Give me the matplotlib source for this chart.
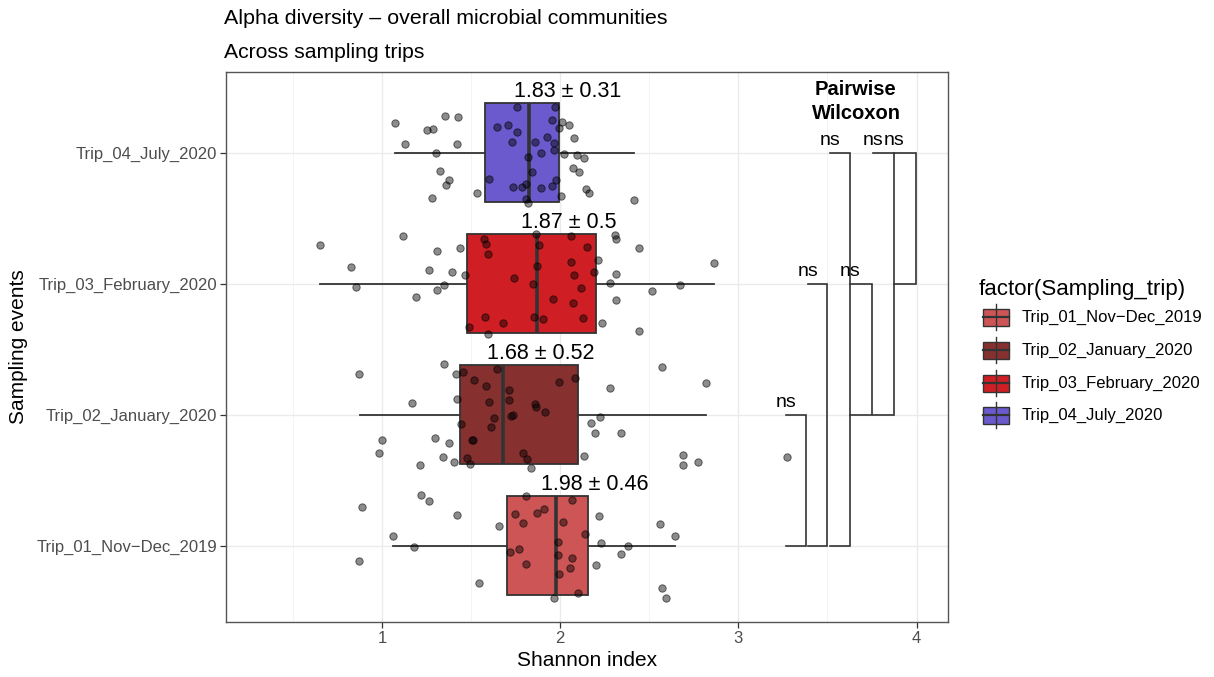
import matplotlib
matplotlib.use('Agg')
import matplotlib.pyplot as plt
from matplotlib.patches import Rectangle

plt.rcParams['font.family'] = ['Liberation Sans', 'DejaVu Sans']

# ---- data ----
trips = ['Trip_01_Nov\u2212Dec_2019', 'Trip_02_January_2020',
         'Trip_03_February_2020', 'Trip_04_July_2020']
colors = ['#CD5555', '#873030', '#CF1F25', '#6A5ACD']

q1 = [1.701, 1.439, 1.477, 1.579]
median = [1.978, 1.677, 1.869, 1.828]
q3 = [2.159, 2.099, 2.202, 1.996]
whisk_lo = [1.062, 0.875, 0.654, 1.075]
whisk_hi = [2.647, 2.819, 2.865, 2.417]

means = [1.98, 1.68, 1.87, 1.83]
sds = [0.46, 0.52, 0.5, 0.31]

# Shannon values of each sample and the vertical jitter seen in the picture
shannon_01 = [0.871, 0.886, 1.060, 1.179, 1.219, 1.264, 1.422, 1.546, 1.658, 1.716,
              1.748, 1.768, 1.791, 1.807, 1.809, 1.869, 1.908, 1.968, 1.987, 1.987,
              1.991, 2.017, 2.058, 2.069, 2.069, 2.101, 2.142, 2.200, 2.219, 2.228,
              2.344, 2.381, 2.559, 2.574, 2.593, 2.647]
jitter_01 = [-0.115, 0.295, 0.076, -0.010, 0.384, 0.336, 0.234, -0.290, 0.148, -0.051,
             0.242, -0.028, 0.170, 0.377, -0.142, 0.249, 0.282, -0.397, 0.025, -0.074,
             -0.216, 0.183, -0.170, 0.344, -0.099, -0.359, 0.087, -0.148, 0.224, 0.018,
             -0.064, -0.003, 0.163, -0.326, -0.397, 0.074]

shannon_02 = [0.873, 0.985, 1.000, 1.166, 1.211, 1.299, 1.340, 1.346, 1.378, 1.406,
              1.413, 1.421, 1.441, 1.454, 1.479, 1.493, 1.503, 1.512, 1.516, 1.585,
              1.598, 1.611, 1.628, 1.645, 1.712, 1.714, 1.723, 1.733, 1.789, 1.815,
              1.837, 1.860, 1.867, 1.916, 1.991, 2.082, 2.136, 2.174, 2.198, 2.222,
              2.277, 2.342, 2.572, 2.692, 2.688, 2.776, 2.819, 3.275]
jitter_02 = [0.308, -0.295, -0.198, 0.087, -0.382, -0.181, -0.323, 0.387, -0.221, -0.361,
             0.313, 0.120, -0.074, 0.323, -0.331, -0.374, -0.198, -0.191, 0.267, 0.216,
             0.097, -0.094, -0.028, 0.344, 0.191, 0.109, -0.013, -0.005, -0.293, -0.336,
             -0.405, 0.084, 0.059, 0.018, 0.247, 0.282, -0.318, -0.064, -0.140, -0.018,
             0.206, -0.140, 0.359, -0.310, -0.384, -0.364, 0.237, -0.326]

shannon_03 = [0.654, 0.824, 0.856, 1.118, 1.189, 1.264, 1.307, 1.307, 1.350, 1.393,
              1.437, 1.464, 1.490, 1.570, 1.583, 1.596, 1.581, 1.593, 1.677, 1.740,
              1.847, 1.852, 1.865, 1.880, 1.871, 1.905, 1.961, 2.060, 2.060, 2.077,
              2.073, 2.118, 2.129, 2.150, 2.191, 2.215, 2.234, 2.280, 2.305, 2.314,
              2.316, 2.314, 2.441, 2.445, 2.514, 2.673, 2.865]
jitter_03 = [0.295, 0.130, -0.028, 0.364, -0.099, 0.107, 0.252, -0.051, -0.010, 0.087,
             0.270, 0.069, -0.331, 0.338, 0.300, 0.226, -0.257, -0.382, -0.303, 0.041,
             -0.005, -0.254, 0.382, 0.295, 0.132, -0.270, -0.115, 0.364, 0.168, 0.066,
             -0.148, -0.033, -0.262, 0.280, 0.087, 0.181, -0.303, 0.003, 0.372, 0.338,
             0.076, -0.127, 0.270, -0.366, -0.059, -0.008, 0.153]

shannon_04 = [1.075, 1.127, 1.252, 1.284, 1.353, 1.426, 1.424, 1.305, 1.327, 1.378,
              1.359, 1.279, 1.531, 1.598, 1.645, 1.705, 1.757, 1.731, 1.759, 1.819,
              1.843, 1.860, 1.892, 1.927, 1.957, 1.966, 1.963, 1.972, 1.991, 2.011,
              2.047, 2.080, 2.024, 2.095, 2.133, 2.071, 2.105, 2.146, 2.163, 2.417,
              2.007, 1.976, 1.953, 1.892, 1.806, 1.785, 1.733, 1.806, 1.817]
jitter_04 = [0.224, 0.069, 0.170, 0.178, 0.282, 0.270, 0.064, -0.003, -0.142, -0.209,
             -0.247, -0.349, -0.308, -0.201, 0.196, 0.211, 0.160, 0.079, 0.344, -0.033,
             -0.145, 0.084, 0.000, 0.115, 0.247, 0.074, 0.020, 0.344, 0.191, 0.234,
             0.211, 0.109, -0.013, -0.018, -0.041, -0.120, -0.145, -0.275, -0.305, -0.364,
             -0.331, -0.211, -0.254, -0.267, -0.242, -0.262, -0.262, -0.356, -0.384]

shannon = [shannon_01, shannon_02, shannon_03, shannon_04]
jitter = [jitter_01, jitter_02, jitter_03, jitter_04]

# pairwise Wilcoxon brackets (group a, group b, label)
pairs = [(1, 2), (1, 3), (1, 4), (2, 3), (2, 4), (3, 4)]
pair_labels = ['ns'] * 6
bracket_start = [3.265, 3.39, 3.513, 3.625, 3.755, 3.871]
bracket_end = [3.377, 3.50, 3.625, 3.749, 3.871, 3.994]

# ---- figure ----
fig = plt.figure(figsize=(12.14, 6.77), dpi=100)
ax = fig.add_axes([226 / 1214, 1 - 622 / 677, (948.3 - 226) / 1214, (622 - 72) / 677])

positions = [1, 2, 3, 4]
stats = []
for i in range(4):
    stats.append({'med': median[i], 'q1': q1[i], 'q3': q3[i],
                  'whislo': whisk_lo[i], 'whishi': whisk_hi[i], 'fliers': []})

bp = ax.bxp(stats, positions=positions, orientation='horizontal', widths=0.75,
            patch_artist=True, showcaps=False, showfliers=False,
            boxprops=dict(edgecolor='#333333', linewidth=1.3),
            whiskerprops=dict(color='#333333', linewidth=1.3),
            medianprops=dict(color='#333333', linewidth=2.6))
for patch, c in zip(bp['boxes'], colors):
    patch.set_facecolor(c)
for art in bp['boxes'] + bp['whiskers'] + bp['medians']:
    art.set_zorder(2)

for i in range(4):
    ys = [positions[i] + j for j in jitter[i]]
    ax.scatter(shannon[i], ys, s=28, facecolors=(0, 0, 0, 0.45),
               edgecolors=(0, 0, 0, 0.55), linewidths=0.7, zorder=3)

# mean +/- sd labels
for i in range(4):
    ax.text(means[i] - 0.09, positions[i] + 0.425, f'{means[i]} \u00b1 {sds[i]}',
            ha='left', va='baseline', fontsize=15.5, color='black', zorder=4)

# brackets
for (a, b), lab, x0, x1 in zip(pairs, pair_labels, bracket_start, bracket_end):
    ax.plot([x0, x1, x1, x0], [a, a, b, b], color='#333333', linewidth=1.2,
            solid_joinstyle='miter', zorder=2)
    ax.text(x0, b + 0.03, lab, ha='center', va='bottom', fontsize=14, color='black')

ax.text(3.66, 4.39, 'Pairwise\nWilcoxon', ha='center', va='center', fontsize=14.5,
        fontweight='bold', linespacing=1.3)

ax.set_xlim(0.125, 4.178)
ax.set_ylim(0.416, 4.615)
ax.set_yticks(positions)
ax.set_yticklabels(trips)
ax.set_xticks([1, 2, 3, 4])
ax.set_xticks([0.5, 1.5, 2.5, 3.5], minor=True)
ax.grid(which='major', color='#EBEBEB', linewidth=1.0, zorder=0)
ax.grid(which='minor', axis='x', color='#F2F2F2', linewidth=0.6, zorder=0)
ax.set_axisbelow(True)
ax.tick_params(axis='both', which='major', length=4.5, width=0.9, color='#333333',
               labelsize=12, labelcolor='#4D4D4D', pad=1.8)
ax.tick_params(axis='x', which='minor', length=0)
for sp in ax.spines.values():
    sp.set_color('#555555')
    sp.set_linewidth(1.0)

ax.set_xlabel('Shannon index', fontsize=15, labelpad=4)
ax.set_ylabel('Sampling events', fontsize=15, labelpad=6)

fig.text(224 / 1214, 1 - 19 / 677, 'Alpha diversity \u2013 overall microbial communities',
         fontsize=15.4, ha='left', va='center')
fig.text(224 / 1214, 1 - 53 / 677, 'Across sampling trips', fontsize=15.2,
         ha='left', va='center')

# legend drawn by hand, in pixel units
lax = fig.add_axes([0, 0, 1, 1])
lax.set_xlim(0, 1214)
lax.set_ylim(677, 0)
lax.axis('off')
lax.text(979, 289, 'factor(Sampling_trip)', fontsize=16, ha='left', va='center')
key_y = [317, 350, 383, 415]
for lab, c, ky in zip(trips, colors, key_y):
    lax.plot([996, 996], [ky - 13, ky + 13], color='#333333', linewidth=1.0)
    lax.add_patch(Rectangle((983, ky - 8.5), 26, 17, facecolor=c, edgecolor='#333333',
                            linewidth=1.0))
    lax.plot([983, 1009], [ky, ky], color='#333333', linewidth=1.6)
    lax.text(1022, ky, lab, fontsize=12, ha='left', va='center')

fig.savefig('out.png', dpi=100)
